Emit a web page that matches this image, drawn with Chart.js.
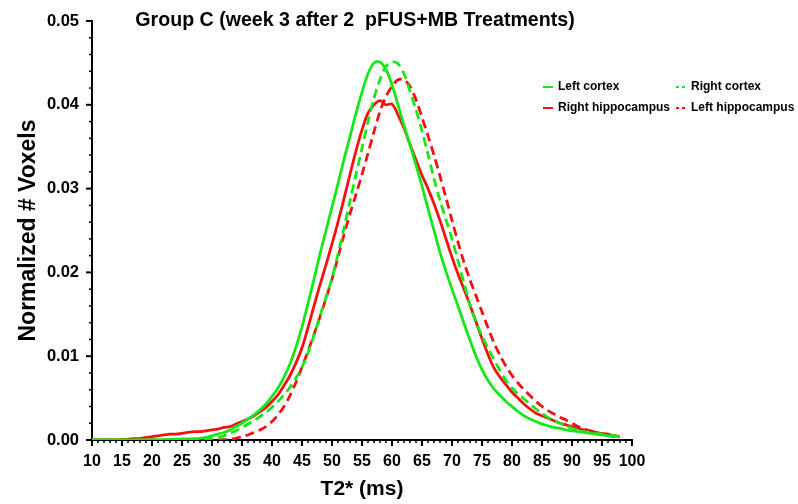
<!DOCTYPE html>
<html>
<head>
<meta charset="utf-8">
<script src="https://cdn.jsdelivr.net/npm/chart.js@4.4.1/dist/chart.umd.min.js"></script>
<style>
html,body{margin:0;padding:0;background:#fff;}
canvas{display:block;}
</style>
</head>
<body>
<canvas id="c" width="798" height="504"></canvas>
<script>
const chartTitle = "Group C (week 3 after 2  pFUS+MB Treatments)";
const xTitle = "T2* (ms)";
const yTitle = "Normalized # Voxels";
const seriesNames = ["Left cortex", "Right cortex", "Right hippocampus", "Left hippocampus"];

const t2 = [10,11,12,13,14,15,16,17,18,19,20,21,22,23,24,25,26,27,28,29,30,31,32,33,34,35,36,37,38,39,40,41,42,43,44,45,46,47,48,49,50,51,52,53,54,55,56,57,58,59,60,61,62,63,64,65,66,67,68,69,70,71,72,73,74,75,76,77,78,79,80,81,82,83,84,85,86,87,88,89,90,91,92,93,94,95,96,97,98];

const leftCortex = [0,0,0,0,0,0,0,0,0,0.00001,0.00002,0.00003,0.00005,0.00007,0.0001,0.00012,0.00013,0.00016,0.0002,0.0003,0.0005,0.0007,0.0009,0.0012,0.0016,0.0020,0.0025,0.0030,0.0036,0.0043,0.0052,0.0062,0.0075,0.0091,0.0111,0.0135,0.0163,0.0192,0.0222,0.0250,0.0278,0.0306,0.0335,0.0362,0.0390,0.0415,0.0437,0.0450,0.0451,0.0442,0.0424,0.0400,0.0375,0.0352,0.0328,0.0303,0.0276,0.0250,0.0224,0.0201,0.0180,0.0160,0.0139,0.0119,0.0100,0.0084,0.0071,0.0061,0.0053,0.0046,0.0040,0.0034,0.0029,0.0025,0.0022,0.0019,0.0017,0.0015,0.0014,0.0012,0.0011,0.0010,0.0009,0.0008,0.0007,0.0006,0.0005,0.0004,0.0004];

const rightCortex = [0,0,0,0,0,0,0,0,0,0,0,0,0,0,0,0,0,0,0.00005,0.0001,0.0002,0.0003,0.0005,0.0008,0.0011,0.0015,0.0019,0.0023,0.0028,0.0033,0.0039,0.0046,0.0054,0.0063,0.0074,0.0087,0.0104,0.0125,0.0148,0.0170,0.0193,0.0222,0.0253,0.0285,0.0317,0.0348,0.0380,0.0408,0.0430,0.0446,0.0451,0.0449,0.0437,0.0416,0.0394,0.0369,0.0341,0.0312,0.0286,0.0263,0.0240,0.0214,0.0187,0.0161,0.0141,0.0124,0.0110,0.0096,0.0083,0.0071,0.0062,0.0055,0.0049,0.0043,0.0037,0.0032,0.0027,0.0023,0.0020,0.0017,0.0014,0.0012,0.0010,0.0009,0.0008,0.0007,0.0006,0.0005,0.0004];

const rightHippocampus = [0,0,0,0,0.00002,0.00005,0.0001,0.00015,0.0002,0.0003,0.0004,0.0005,0.0006,0.0007,0.0007,0.0008,0.0009,0.0010,0.0010,0.0011,0.0012,0.0013,0.0015,0.0016,0.0019,0.0022,0.0025,0.0029,0.0034,0.0039,0.0046,0.0054,0.0065,0.0077,0.0092,0.0110,0.0134,0.0160,0.0185,0.0209,0.0234,0.0260,0.0288,0.0317,0.0345,0.0370,0.0390,0.0400,0.0405,0.0400,0.0401,0.0388,0.0372,0.0353,0.0334,0.0316,0.0300,0.0282,0.0262,0.0240,0.0218,0.0198,0.0180,0.0161,0.0141,0.0121,0.0102,0.0086,0.0075,0.0066,0.0057,0.0050,0.0043,0.0037,0.0032,0.0029,0.0026,0.0023,0.0020,0.0018,0.0016,0.0014,0.0012,0.0011,0.0009,0.0008,0.0007,0.0005,0.0004];

const leftHippocampus = [0,0,0,0,0,0,0,0,0,0,0,0,0,0,0,0,0,0,0,0,0,0,0.00003,0.00008,0.0002,0.0004,0.0006,0.0009,0.0012,0.0016,0.0022,0.0030,0.0040,0.0053,0.0069,0.0087,0.0106,0.0126,0.0147,0.0169,0.0192,0.0218,0.0245,0.0270,0.0293,0.0317,0.0342,0.0368,0.0392,0.0410,0.0422,0.0430,0.0430,0.0422,0.0406,0.0385,0.0363,0.0340,0.0315,0.0289,0.0262,0.0236,0.0212,0.0191,0.0172,0.0153,0.0134,0.0116,0.0101,0.0088,0.0077,0.0068,0.0060,0.0053,0.0046,0.0040,0.0035,0.0031,0.0027,0.0024,0.0020,0.0016,0.0013,0.0011,0.0009,0.0007,0.0006,0.0005,0.0004];

const GREEN = '#19e619';
const RED = '#f21212';
const FONT = "'Liberation Sans', Arial, Helvetica, sans-serif";

function pts(vals){ return t2.map((x,i)=>({x:x, y:vals[i]})); }

const customPlugin = {
  id: 'custom',
  afterDraw(chart){
    const ctx = chart.ctx;
    const xs = chart.scales.x, ys = chart.scales.y;
    const ca = chart.chartArea;
    ctx.save();
    ctx.strokeStyle = '#000';
    ys.ticks.forEach(t=>{
      const v = t.value;
      const major = Math.abs(v*100 - Math.round(v*100)) < 1e-6;
      const py = ys.getPixelForValue(v);
      ctx.lineWidth = major ? 2 : 1.5;
      ctx.beginPath();
      ctx.moveTo(ca.left - (major ? 6 : 3), py);
      ctx.lineTo(ca.left, py);
      ctx.stroke();
    });
    xs.ticks.forEach(t=>{
      const v = t.value;
      const major = Math.abs(v % 5) < 1e-6;
      const px = xs.getPixelForValue(v);
      ctx.lineWidth = major ? 2 : 1.5;
      ctx.beginPath();
      ctx.moveTo(px, ca.bottom);
      ctx.lineTo(px, ca.bottom + (major ? 6 : 3));
      ctx.stroke();
    });
    ctx.fillStyle = '#000';
    ctx.font = "bold 19.6px " + FONT;
    ctx.textAlign = 'center';
    ctx.textBaseline = 'alphabetic';
    ctx.fillText(chartTitle, 355, 26);
    ctx.font = "bold 12px " + FONT;
    ctx.textAlign = 'left';
    ctx.textBaseline = 'middle';
    chart.data.datasets.forEach((ds,i)=>{
      const col = i % 2, row = Math.floor(i/2);
      const lx = col === 0 ? 543 : 676;
      const ly = row === 0 ? 87 : 108;
      ctx.strokeStyle = ds.borderColor;
      ctx.lineWidth = 2;
      ctx.setLineDash(ds.borderDash && ds.borderDash.length ? [3,3] : []);
      ctx.beginPath();
      ctx.moveTo(lx, ly);
      ctx.lineTo(lx + 10, ly);
      ctx.stroke();
      ctx.setLineDash([]);
      ctx.fillStyle = '#000';
      ctx.fillText(ds.label, lx + 15, ly);
    });
    ctx.restore();
  }
};

new Chart(document.getElementById('c'), {
  type: 'line',
  data: {
    datasets: [
      {label: seriesNames[0], data: pts(leftCortex), borderColor: GREEN, borderWidth: 2.8, borderDash: []},
      {label: seriesNames[1], data: pts(rightCortex), borderColor: GREEN, borderWidth: 2.8, borderDash: [9,5]},
      {label: seriesNames[2], data: pts(rightHippocampus), borderColor: RED, borderWidth: 2.8, borderDash: []},
      {label: seriesNames[3], data: pts(leftHippocampus), borderColor: RED, borderWidth: 2.8, borderDash: [9,5]}
    ]
  },
  options: {
    responsive: false,
    animation: false,
    devicePixelRatio: 1,
    layout: {padding: {top: 21, right: 166, bottom: 0, left: 0}},
    elements: {point: {radius: 0}, line: {tension: 0.3, fill: false}},
    plugins: {legend: {display: false}, title: {display: false}, tooltip: {enabled: false}},
    scales: {
      x: {
        type: 'linear', min: 10, max: 100,
        afterFit: s => { s.height = 64; },
        grid: {display: false},
        border: {display: true, color: '#000', width: 2},
        ticks: {
          stepSize: 1, autoSkip: false, maxRotation: 0, minRotation: 0,
          padding: 4, color: '#000',
          font: {family: FONT, size: 16, weight: 'bold'},
          callback: v => (Math.abs(v % 5) < 1e-6 ? String(v) : '')
        },
        title: {display: true, text: xTitle, color: '#000', font: {family: FONT, size: 21, weight: 'bold'}, padding: {top: 0, bottom: 2}}
      },
      y: {
        type: 'linear', min: 0, max: 0.05,
        afterFit: s => { s.width = 92; },
        grid: {display: false},
        border: {display: true, color: '#000', width: 2},
        ticks: {
          stepSize: 0.002, autoSkip: false, padding: 5, color: '#000',
          font: {family: FONT, size: 16.5, weight: 'bold'},
          callback: v => (Math.abs(v*100 - Math.round(v*100)) < 1e-6 ? v.toFixed(2) : '')
        },
        title: {display: true, text: yTitle, color: '#000', font: {family: FONT, size: 23, weight: 'bold'}, padding: {top: 15, bottom: 0}}
      }
    }
  },
  plugins: [customPlugin]
});
</script>
</body>
</html>
